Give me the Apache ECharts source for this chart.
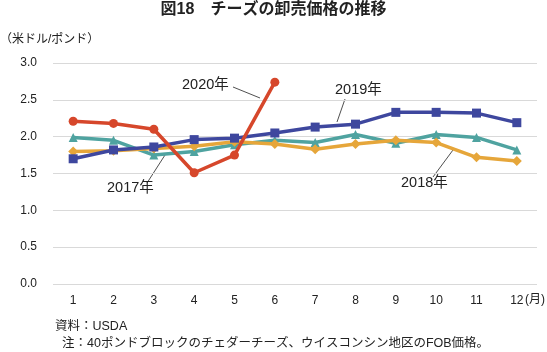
<!DOCTYPE html>
<html><head><meta charset="utf-8">
<script src="https://cdn.jsdelivr.net/npm/echarts@6/dist/echarts.min.js"></script>
<style>html,body{margin:0;padding:0;background:#fff}#c{width:547px;height:352px}</style>
</head><body><div id="c"></div>
<script>
const months = ['1','2','3','4','5','6','7','8','9','10','11','12'];
const yTicks = [0, 0.5, 1.0, 1.5, 2.0, 2.5, 3.0];
const s2017 = [1.99, 1.95, 1.75, 1.80, 1.89, 1.95, 1.92, 2.03, 1.91, 2.03, 1.99, 1.82];
const s2018 = [1.80, 1.81, 1.84, 1.87, 1.93, 1.90, 1.83, 1.90, 1.95, 1.92, 1.72, 1.67];
const s2019 = [1.70, 1.82, 1.86, 1.96, 1.98, 2.05, 2.13, 2.17, 2.33, 2.33, 2.32, 2.19];
const s2020 = [2.21, 2.18, 2.10, 1.51, 1.75, 2.74];
const names = ['2017年','2018年','2019年','2020年'];
const title = '図18　チーズの卸売価格の推移';
const unit = '（米ドル/ポンド）';
const monthUnit = '(月)';
const notes = ['資料：USDA', '注：40ポンドブロックのチェダーチーズ、ウイスコンシン地区のFOB価格。'];

const FONT = '"Liberation Sans", "Noto Sans CJK JP", sans-serif';
const colors = ['#4FA3A0', '#E6A63A', '#3E479E', '#D6472B'];
const symbols = ['triangle', 'diamond', 'rect', 'circle'];
const sizes = [9, 10, 9, 9];
const data = [s2017, s2018, s2019, s2020];

const chart = echarts.init(document.getElementById('c'));
const txt = (t, x, y, opts) => Object.assign({type:'text', left:x, top:y, style:Object.assign({text:t, font:'12px ' + FONT, fill:'#222'}, opts||{})});
const line = (x1,y1,x2,y2) => ({type:'line', shape:{x1,y1,x2,y2}, style:{stroke:'#222', lineWidth:0.8}});

chart.setOption({
  animation:false,
  grid:{left:53, right:10, top:63, bottom:68},
  xAxis:{type:'category', data:months, boundaryGap:true,
    axisLine:{show:false}, axisTick:{show:false},
    axisLabel:{color:'#222', fontSize:12, fontFamily:FONT, margin:11}},
  yAxis:{type:'value', min:0, max:3, interval:0.5,
    axisLine:{show:false}, axisTick:{show:false},
    splitLine:{lineStyle:{color:'#d9d9d9', width:1}},
    axisLabel:{color:'#222', fontSize:12, fontFamily:FONT, margin:16,
      formatter: v => yTicks.includes(v) ? v.toFixed(1) : ''}},
  series: data.map((d,i)=>({
    name:names[i], type:'line', data:d, symbol:symbols[i], symbolSize:sizes[i],
    lineStyle:{color:colors[i], width:3.5}, itemStyle:{color:colors[i]}, z:2+i
  })),
  graphic:[
    {type:'text', left:'center', top:2, style:{text:title, font:'bold 16px ' + FONT, fill:'#222'}},
    txt(unit, 0, 34, {font:'12px ' + FONT}),
    txt(monthUnit, 525, 294),
    txt(notes[0], 55, 320, {font:'12.5px ' + FONT}),
    txt(notes[1], 62, 337, {font:'12.5px ' + FONT}),
    txt(names[3], 182, 78, {font:'14.5px ' + FONT}),
    line(233,87,260,98),
    txt(names[2], 335, 83, {font:'14.5px ' + FONT}),
    line(345,99,337,122),
    txt(names[0], 107, 181, {font:'14.5px ' + FONT}),
    line(147,183,165,155),
    txt(names[1], 401, 176, {font:'14.5px ' + FONT}),
    line(433,177,453,150)
  ]
});
</script></body></html>
